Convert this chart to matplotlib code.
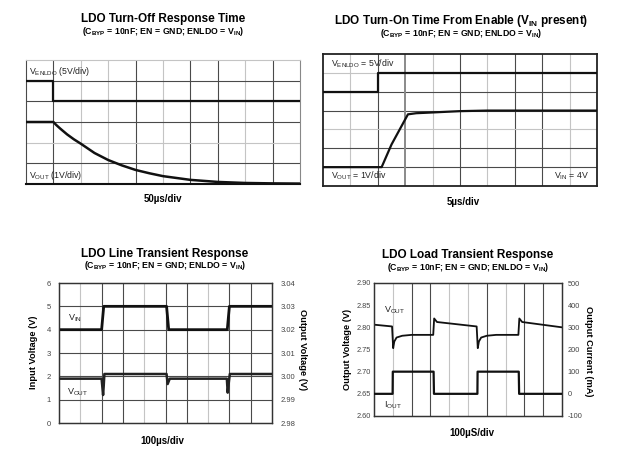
import matplotlib
matplotlib.use("Agg")
import matplotlib.pyplot as plt

plt.rcParams['font.family'] = ['Liberation Sans', 'DejaVu Sans']
plt.rcParams['mathtext.default'] = 'regular'
plt.rcParams['axes.unicode_minus'] = False

W, H = 620, 461

# LDO turn-off response (x and y in scope divisions)
off_x = [0, 1.0, 1.0, 10.0]
off_enldo = [5.0, 5.0, 4.0, 4.0]
off_vout_x = [0, 1.0, 1.1, 1.25, 1.5, 1.75, 2.0, 2.5, 3.0, 3.5, 4.0, 4.5, 5.0, 6.0, 7.0, 8.0, 9.0, 10.0]
off_vout = [3.0, 3.0, 2.86, 2.68, 2.4, 2.16, 1.95, 1.5, 1.16, 0.9, 0.68, 0.52, 0.38, 0.2, 0.1, 0.05, 0.03, 0.02]

# LDO turn-on time from enable (divisions)
on_x = [0, 2.0, 2.0, 10.0]
on_enldo = [5.0, 5.0, 6.0, 6.0]
on_vout_x = [0, 2.14, 2.5, 3.1, 3.4, 4.0, 5.0, 6.0, 10.0]
on_vout = [1.0, 1.0, 2.2, 3.8, 3.86, 3.9, 3.97, 4.0, 4.0]

# line transient, x in 100us divisions
line_x = [0, 2.0, 2.1, 5.05, 5.15, 7.9, 8.0, 10.0]
line_vin = [4, 4, 5, 5, 4, 4, 5, 5]
line_vout_x = [0, 2.0, 2.07, 2.1, 2.13, 5.05, 5.1, 5.2, 7.88, 7.92, 7.98, 8.02, 10.0]
line_vout = [2.999, 2.999, 2.992, 2.996, 3.001, 3.001, 2.9967, 2.999, 2.999, 2.993, 2.998, 3.001, 3.001]
line_left_ticks = [0, 1, 2, 3, 4, 5, 6]
line_right_ticks = [2.98, 2.99, 3.00, 3.01, 3.02, 3.03, 3.04]

# load transient, x in 100us divisions
load_x = [0, 0.99, 1.0, 3.17, 3.19, 5.5, 5.51, 7.7, 7.72, 10.0]
load_iout = [0, 0, 100, 100, 0, 0, 100, 100, 0, 0]
load_vout_x = [0, 0.96, 1.02, 1.08, 1.2, 1.5, 2.0, 3.15, 3.2, 3.35,
               5.46, 5.52, 5.58, 5.7, 6.0, 6.5, 7.68, 7.73, 7.88, 10.0]
load_vout = [2.806, 2.802, 2.753, 2.768, 2.777, 2.781, 2.783, 2.783, 2.820, 2.812,
             2.802, 2.753, 2.768, 2.777, 2.781, 2.783, 2.783, 2.820, 2.812, 2.800]
load_left_ticks = [2.60, 2.65, 2.70, 2.75, 2.80, 2.85, 2.90]
load_right_ticks = [-100, 0, 100, 200, 300, 400, 500]

SUB = '(C$_{BYP}$ = 10nF; EN = GND; ENLDO = V$_{IN}$)'
DARK = '#4a4a4a'
LIGHT = '#c4c4c4'


def box(l, t, r, b):
    return fig.add_axes([l / W, 1 - b / H, (r - l) / W, (b - t) / H])


def ftext(px, py, s, **kw):
    fig.text(px / W, 1 - py / H, s, **kw)


def grid(ax, dark_v, light_v, dark_h, light_h):
    for v in light_v:
        ax.axvline(v, color=LIGHT, lw=0.8, zorder=1)
    for v in dark_v:
        ax.axvline(v, color=DARK, lw=0.8, zorder=1)
    for h in light_h:
        ax.axhline(h, color=LIGHT, lw=0.8, zorder=1)
    for h in dark_h:
        ax.axhline(h, color=DARK, lw=0.8, zorder=1)


def clean(ax):
    ax.set_xticks([])
    ax.set_yticks([])


fig = plt.figure(figsize=(6.2, 4.61), dpi=100)

# ---- LDO Turn-Off Response Time
ax1 = box(26, 60, 300, 184)
ax1.set_xlim(0, 10)
ax1.set_ylim(0, 6)
clean(ax1)
grid(ax1, [1, 4, 6, 7, 9], [2, 3, 5, 8], [1, 3, 4, 5], [2])
ax1.plot(off_x, off_enldo, color='#111111', lw=1.6, zorder=3)
ax1.plot(off_vout_x, off_vout, color='#111111', lw=1.8, zorder=3)
ax1.spines['top'].set_color(LIGHT)
ax1.spines['right'].set_color('#888888')
ax1.spines['left'].set_color(DARK)
ax1.spines['bottom'].set_color('#111111')
ax1.spines['bottom'].set_linewidth(1.5)
ftext(163, 19, 'LDO Turn-Off Response Time', fontsize=8.5, fontweight='bold', ha='center', va='center')
ftext(163, 32, SUB, fontsize=6.3, fontweight='bold', ha='center', va='center')
ftext(29, 71, 'V$_{ENLDO}$ (5V/div)', fontsize=6.3, ha='left', va='center', color='#222222')
ftext(29, 175, 'V$_{OUT}$ (1V/div)', fontsize=6.3, ha='left', va='center', color='#222222')
ftext(163, 199, '50\u00b5s/div', fontsize=7, fontweight='bold', ha='center', va='center')

# ---- LDO Turn-On Time From Enable
ax2 = box(323, 54, 597, 186)
ax2.set_xlim(0, 10)
ax2.set_ylim(0, 7)
clean(ax2)
grid(ax2, [2, 5, 7, 8], [1, 4, 6, 9], [1, 2, 4, 5], [3, 6])
ax2.axvline(3, color='#8a8a8a', lw=1.4, zorder=1)
ax2.plot(on_x, on_enldo, color='#111111', lw=1.6, zorder=3)
ax2.plot(on_vout_x, on_vout, color='#111111', lw=1.6, zorder=3)
for s in ax2.spines.values():
    s.set_color('#222222')
    s.set_linewidth(1.3)
ftext(461, 21, 'LDO Turn-On Time From Enable (V$_{IN}$ present)', fontsize=8.5, fontweight='bold',
      ha='center', va='center')
ftext(461, 34, SUB, fontsize=6.3, fontweight='bold', ha='center', va='center')
ftext(331, 64, 'V$_{ENLDO}$ = 5V/div', fontsize=6.3, ha='left', va='center', color='#222222')
ftext(331, 176, 'V$_{OUT}$ = 1V/div', fontsize=6.3, ha='left', va='center', color='#222222')
ftext(589, 176, 'V$_{IN}$ = 4V', fontsize=6.3, ha='right', va='center', color='#222222')
ftext(463, 202, '5\u00b5s/div', fontsize=7, fontweight='bold', ha='center', va='center')

# ---- LDO Line Transient Response
ax3 = box(59, 283, 272, 423)
ax3.set_xlim(0, 10)
ax3.set_ylim(line_left_ticks[0], line_left_ticks[-1])
ax3.set_xticks([])
ax3.set_yticks(line_left_ticks)
ax3.tick_params(axis='y', length=0, pad=6, labelsize=5.5, labelcolor='#444444')
grid(ax3, [2, 3, 5, 6, 8, 9], [1, 4, 7], [1, 2, 3, 4, 5], [])
ax3.plot(line_x, line_vin, color='#111111', lw=2.0, zorder=3)
ax3r = ax3.twinx()
ax3r.set_ylim(line_right_ticks[0], line_right_ticks[-1])
ax3r.set_yticks(line_right_ticks)
ax3r.set_yticklabels(['%.2f' % v for v in line_right_ticks])
ax3r.tick_params(axis='y', length=0, pad=6, labelsize=5.5, labelcolor='#444444')
ax3r.plot(line_vout_x, line_vout, color='#222222', lw=1.8, zorder=3)
for a in (ax3, ax3r):
    for s in a.spines.values():
        s.set_color('#333333')
        s.set_linewidth(0.9)
ftext(33, 352, 'Input Voltage (V)', fontsize=6.7, fontweight='bold', rotation=90, ha='center', va='center')
ftext(303, 350, 'Output Voltage (V)', fontsize=6.7, fontweight='bold', rotation=-90, ha='center', va='center')
ftext(165, 254, 'LDO Line Transient Response', fontsize=8.5, fontweight='bold', ha='center', va='center')
ftext(165, 266, SUB, fontsize=6.3, fontweight='bold', ha='center', va='center')
ftext(68, 318, 'V$_{IN}$', fontsize=6.5, ha='left', va='center', color='#222222')
ftext(67, 392, 'V$_{OUT}$', fontsize=6.5, ha='left', va='center', color='#222222')
ftext(162, 441, '100\u00b5s/div', fontsize=7, fontweight='bold', ha='center', va='center')

# ---- LDO Load Transient Response
ax4 = box(374, 283, 562, 416)
ax4.set_xlim(0, 10)
ax4.set_ylim(load_left_ticks[0], load_left_ticks[-1])
ax4.set_xticks([])
ax4.set_yticks(load_left_ticks)
ax4.set_yticklabels(['%.2f' % v for v in load_left_ticks])
ax4.tick_params(axis='y', length=0, pad=2, labelsize=5.3, labelcolor='#444444')
grid(ax4, [2, 3, 6, 8, 9], [1, 4, 5, 7], [], [])
ax4.plot(load_vout_x, load_vout, color='#111111', lw=1.3, zorder=3)
ax4r = ax4.twinx()
ax4r.set_ylim(load_right_ticks[0], load_right_ticks[-1])
ax4r.set_yticks(load_right_ticks)
ax4r.tick_params(axis='y', length=0, pad=4, labelsize=5.3, labelcolor='#444444')
ax4r.plot(load_x, load_iout, color='#111111', lw=1.6, zorder=3)
for a in (ax4, ax4r):
    for s in a.spines.values():
        s.set_color('#333333')
        s.set_linewidth(0.9)
ftext(347, 349, 'Output Voltage (V)', fontsize=6.7, fontweight='bold', rotation=90, ha='center', va='center')
ftext(588, 351, 'Output Current (mA)', fontsize=6.7, fontweight='bold', rotation=-90, ha='center', va='center')
ftext(468, 255, 'LDO Load Transient Response', fontsize=8.5, fontweight='bold', ha='center', va='center')
ftext(468, 267, SUB, fontsize=6.3, fontweight='bold', ha='center', va='center')
ftext(384, 310, 'V$_{OUT}$', fontsize=6.5, ha='left', va='center', color='#222222')
ftext(384, 405, 'I$_{OUT}$', fontsize=6.5, ha='left', va='center', color='#222222')
ftext(472, 433, '100\u00b5S/div', fontsize=7, fontweight='bold', ha='center', va='center')

fig.savefig('out.png', dpi=100)
